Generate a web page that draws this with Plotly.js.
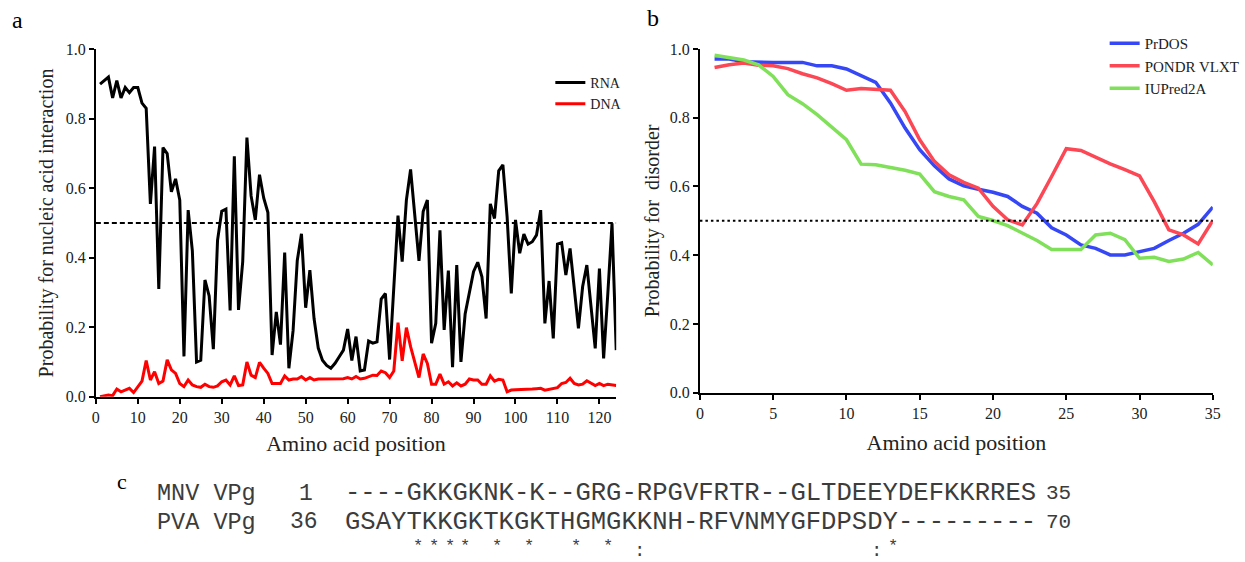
<!DOCTYPE html>
<html>
<head>
<meta charset="utf-8">
<script src="https://cdn.plot.ly/plotly-3.0.1.min.js"></script>
<style>html,body{margin:0;padding:0;background:#fff;overflow:hidden;}#chart{width:1245px;height:562px;}</style>
</head>
<body>
<div id="chart"></div>
<script>
// ---------- Panel a data ----------
const rnaPositions = Array.from({length: 124}, (_, i) => i + 1);
const rnaValues = [
  0.90,0.91,0.92,0.86,0.91,0.86,0.89,0.875,0.89,0.89,
  0.845,0.83,0.555,0.72,0.31,0.717,0.70,0.59,0.627,0.566,
  0.116,0.537,0.42,0.10,0.105,0.336,0.29,0.137,0.45,0.534,
  0.54,0.248,0.692,0.25,0.389,0.746,0.578,0.509,0.639,0.572,
  0.53,0.12,0.244,0.15,0.415,0.082,0.19,0.392,0.469,0.256,
  0.364,0.225,0.14,0.105,0.09,0.082,0.096,0.115,0.134,0.195,
  0.104,0.173,0.074,0.077,0.16,0.154,0.158,0.281,0.297,0.107,
  0.326,0.521,0.389,0.566,0.654,0.532,0.391,0.533,0.566,0.154,
  0.211,0.479,0.192,0.363,0.085,0.379,0.10,0.238,0.297,0.36,
  0.387,0.345,0.225,0.555,0.513,0.65,0.667,0.518,0.297,0.509,
  0.413,0.468,0.439,0.446,0.465,0.537,0.211,0.333,0.168,0.439,
  0.443,0.35,0.427,0.307,0.197,0.317,0.379,0.259,0.139,0.369,
  0.11,0.297,0.499,0.134
];
const dnaValues = [
  0.0,0.002,0.005,0.003,0.022,0.014,0.019,0.024,0.012,0.029,
  0.045,0.104,0.048,0.072,0.038,0.045,0.106,0.077,0.067,0.038,
  0.029,0.048,0.034,0.029,0.027,0.036,0.029,0.027,0.031,0.043,
  0.048,0.034,0.06,0.032,0.034,0.10,0.062,0.055,0.099,0.082,
  0.067,0.038,0.038,0.038,0.06,0.048,0.051,0.051,0.058,0.048,
  0.055,0.048,0.051,0.051,0.051,0.051,0.052,0.052,0.052,0.055,
  0.051,0.058,0.051,0.053,0.058,0.062,0.061,0.074,0.069,0.055,
  0.074,0.213,0.103,0.199,0.144,0.096,0.055,0.123,0.096,0.036,
  0.036,0.065,0.036,0.043,0.031,0.04,0.031,0.036,0.051,0.048,
  0.048,0.036,0.036,0.06,0.045,0.05,0.048,0.014,0.019,0.02,
  0.02,0.02,0.02,0.022,0.023,0.024,0.019,0.022,0.023,0.026,
  0.038,0.041,0.053,0.038,0.034,0.036,0.046,0.038,0.032,0.038,
  0.032,0.036,0.034,0.032
];
const aThreshold = 0.5;
const aXTicks = [0,10,20,30,40,50,60,70,80,90,100,110,120];

// ---------- Panel b data ----------
const disPositions = Array.from({length: 35}, (_, i) => i + 1);
const prdos = [
  0.971,0.971,0.963,0.961,0.961,0.961,0.961,0.951,0.951,0.942,
  0.922,0.903,0.843,0.77,0.707,0.66,0.622,0.602,0.592,0.583,
  0.571,0.542,0.522,0.48,0.459,0.43,0.42,0.401,0.401,0.411,
  0.42,0.443,0.464,0.49,0.54
];
const pondr = [
  0.946,0.954,0.959,0.953,0.951,0.943,0.928,0.916,0.899,0.88,
  0.885,0.883,0.88,0.818,0.736,0.673,0.634,0.612,0.595,0.542,
  0.503,0.488,0.55,0.629,0.71,0.705,0.685,0.666,0.649,0.631,
  0.556,0.474,0.459,0.433,0.501
];
const iupred = [
  0.982,0.974,0.968,0.954,0.92,0.867,0.841,0.809,0.773,0.736,
  0.665,0.663,0.655,0.647,0.636,0.585,0.571,0.561,0.513,0.501,
  0.486,0.464,0.443,0.417,0.417,0.417,0.459,0.464,0.445,0.391,
  0.394,0.382,0.389,0.408,0.372
];
const bThreshold = 0.5;
const bXTicks = [0,5,10,15,20,25,30,35];

// ---------- Panel c data ----------
const seqNames = ["MNV VPg", "PVA VPg"];
const seqStarts = ["1", "36"];
const seqAligned = ["----GKKGKNK-K--GRG-RPGVFRTR--GLTDEEYDEFKKRRES",
                    "GSAYTKKGKTKGKTHGMGKKNH-RFVNMYGFDPSDY---------"];
const seqEnds = ["35", "70"];
const consensus = "     **** * *  * * :              :*";

// ---------- helpers ----------
const W = 1245, H = 562;
const px = v => v / W;
const py = v => 1 - v / H;
const SERIF = "'Liberation Serif', 'Times New Roman', serif";
const MONO = "'Liberation Mono', 'Courier New', monospace";
const TXT = '#222';

const traces = [
  {x: rnaPositions, y: rnaValues, type: 'scatter', mode: 'lines', name: 'RNA',
   line: {color: '#000000', width: 3}, xaxis: 'x', yaxis: 'y', legend: 'legend'},
  {x: rnaPositions, y: dnaValues, type: 'scatter', mode: 'lines', name: 'DNA',
   line: {color: '#ff0000', width: 3}, xaxis: 'x', yaxis: 'y', legend: 'legend'},
  {x: [0, rnaPositions[rnaPositions.length-1]], y: [aThreshold, aThreshold], type: 'scatter', mode: 'lines',
   showlegend: false, line: {color: '#000', width: 2, dash: '5px,3px'}, xaxis: 'x', yaxis: 'y'},
  {x: disPositions, y: prdos, type: 'scatter', mode: 'lines', name: 'PrDOS',
   line: {color: '#3648f5', width: 3.5}, xaxis: 'x2', yaxis: 'y2', legend: 'legend2'},
  {x: disPositions, y: pondr, type: 'scatter', mode: 'lines', name: 'PONDR VLXT',
   line: {color: '#fc4755', width: 3.5}, xaxis: 'x2', yaxis: 'y2', legend: 'legend2'},
  {x: disPositions, y: iupred, type: 'scatter', mode: 'lines', name: 'IUPred2A',
   line: {color: '#80e05a', width: 3.5}, xaxis: 'x2', yaxis: 'y2', legend: 'legend2'},
  {x: [0, disPositions[disPositions.length-1]], y: [bThreshold, bThreshold], type: 'scatter', mode: 'lines',
   showlegend: false, line: {color: '#000', width: 2, dash: '2.5px,3px'}, xaxis: 'x2', yaxis: 'y2'}
];

const axisCommon = {
  showgrid: false, zeroline: false, showline: true, linecolor: '#000', linewidth: 2,
  ticks: 'outside', ticklen: 5, tickwidth: 2, tickcolor: '#000',
  tickfont: {family: SERIF, size: 16, color: TXT}, automargin: false
};

const annotations = [
  {text: 'a', x: px(18), y: py(20), xref: 'paper', yref: 'paper', showarrow: false,
   font: {family: SERIF, size: 24, color: '#000'}, xanchor: 'center', yanchor: 'middle'},
  {text: 'b', x: px(656), y: py(18), xref: 'paper', yref: 'paper', showarrow: false,
   font: {family: SERIF, size: 24, color: '#000'}, xanchor: 'center', yanchor: 'middle'},
  {text: 'c', x: px(123), y: py(481), xref: 'paper', yref: 'paper', showarrow: false,
   font: {family: SERIF, size: 22, color: '#000'}, xanchor: 'center', yanchor: 'middle'}
];
const rowY = [494, 522];
const nb = s => s.replace(/ /g, '\u00a0');
const SEQC = '#3c3c3c';
for (let i = 0; i < 2; i++) {
  annotations.push({text: nb(seqNames[i]), x: px(156), y: py(rowY[i]), xref: 'paper', yref: 'paper',
    showarrow: false, xanchor: 'left', yanchor: 'middle', font: {family: MONO, size: 23.5, color: SEQC}});
  annotations.push({text: seqStarts[i], x: px(i === 0 ? 298 : 289), y: py(rowY[i]), xref: 'paper', yref: 'paper',
    showarrow: false, xanchor: 'left', yanchor: 'middle', font: {family: MONO, size: 23, color: SEQC}});
  annotations.push({text: seqAligned[i], x: px(345), y: py(rowY[i]), xref: 'paper', yref: 'paper',
    showarrow: false, xanchor: 'left', yanchor: 'middle', font: {family: MONO, size: 25.6, color: SEQC}});
  annotations.push({text: seqEnds[i], x: px(1049), y: py(rowY[i]), xref: 'paper', yref: 'paper',
    showarrow: false, xanchor: 'left', yanchor: 'middle', font: {family: MONO, size: 21, color: SEQC}});
}
// conservation symbols, one per alignment column
const consCell = 15.9, consFirst = 340.5;
for (let i = 0; i < consensus.length; i++) {
  const ch = consensus[i];
  if (ch === ' ') continue;
  annotations.push({text: ch, x: px(consFirst + consCell * i), y: py(ch === ':' ? 551 : 546),
    xref: 'paper', yref: 'paper', showarrow: false, xanchor: 'center', yanchor: 'middle',
    borderpad: 0, font: {family: MONO, size: ch === ':' ? 19 : 17, color: SEQC}});
}

const layout = {
  width: W, height: H, margin: {l: 0, r: 0, t: 0, b: 0},
  paper_bgcolor: '#fff', plot_bgcolor: 'rgba(0,0,0,0)',
  showlegend: true,
  font: {family: SERIF, color: TXT},
  xaxis: Object.assign({}, axisCommon, {
    domain: [px(96.3), px(619.2)], range: [0, 124], tickvals: aXTicks, anchor: 'y',
    title: {text: 'Amino acid position', font: {family: SERIF, size: 22, color: TXT}, standoff: 11}
  }),
  yaxis: Object.assign({}, axisCommon, {
    domain: [py(396.7), py(49.3)], range: [0, 1], dtick: 0.2, tick0: 0, tickformat: '.1f', anchor: 'x',
    title: {text: 'Probability for nucleic acid interaction', font: {family: SERIF, size: 20, color: TXT}, standoff: 7}
  }),
  xaxis2: Object.assign({}, axisCommon, {
    domain: [px(703.3), px(1218.7)], range: [0, 35], tickvals: bXTicks, anchor: 'y2',
    title: {text: 'Amino acid position', font: {family: SERIF, size: 22, color: TXT}, standoff: 14}
  }),
  yaxis2: Object.assign({}, axisCommon, {
    domain: [py(392.7), py(49)], range: [0, 1], dtick: 0.2, tick0: 0, tickformat: '.1f', anchor: 'x2',
    title: {text: 'Probability for\u00a0\u00a0disorder', font: {family: SERIF, size: 20, color: TXT}, standoff: 5}
  }),
  legend: {x: px(553), y: py(67), xanchor: 'left', yanchor: 'top', bgcolor: 'rgba(0,0,0,0)',
    font: {family: SERIF, size: 14, color: TXT}, itemwidth: 30, tracegroupgap: 0},
  legend2: {x: px(1110), y: py(27), xanchor: 'left', yanchor: 'top', bgcolor: 'rgba(0,0,0,0)',
    font: {family: SERIF, size: 15, color: TXT}, itemwidth: 30, tracegroupgap: 0},
  annotations: annotations
};

Plotly.newPlot('chart', traces, layout, {displayModeBar: false, staticPlot: true});
</script>
</body>
</html>
